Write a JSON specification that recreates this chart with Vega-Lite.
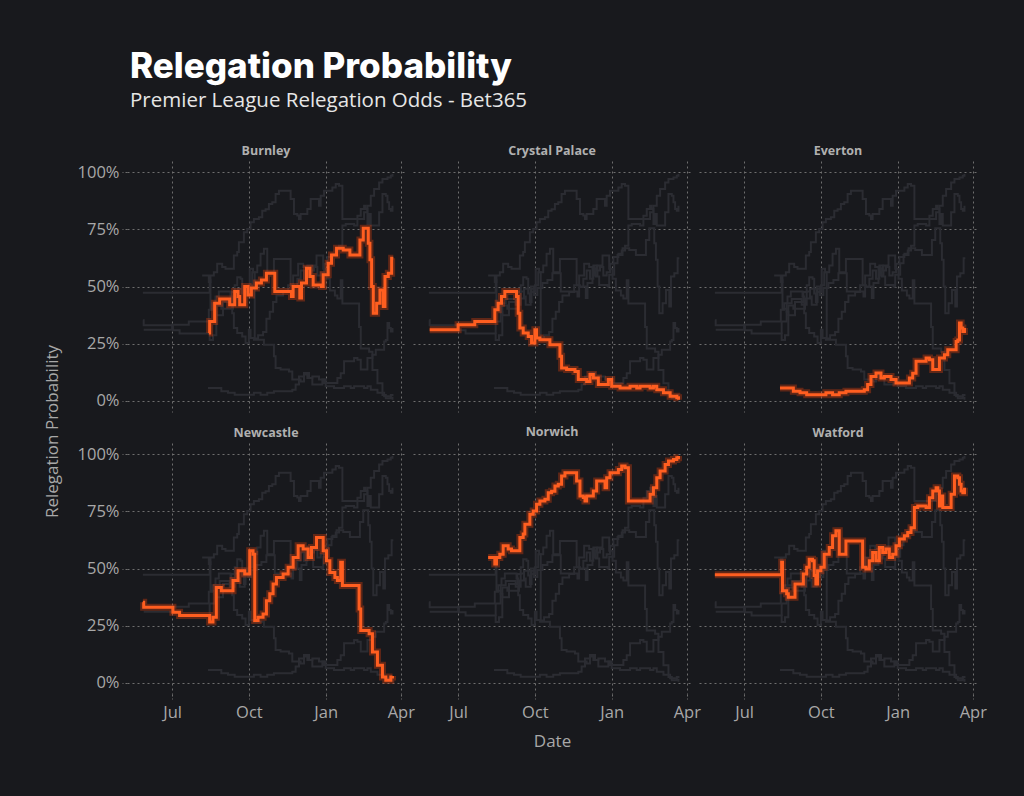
{
  "$schema": "https://vega.github.io/schema/vega-lite/v6.json",
  "background": "#18191d",
  "padding": {"left": 43, "top": 50, "right": 38, "bottom": 48},
  "title": {
    "text": "Relegation Probability",
    "subtitle": "Premier League Relegation Odds - Bet365",
    "anchor": "start",
    "frame": "group",
    "dx": 3,
    "font": "Inter",
    "fontSize": 35,
    "fontWeight": 800,
    "color": "#ffffff",
    "subtitleFont": "Open Sans",
    "subtitleFontSize": 20.5,
    "subtitleColor": "#e6e6e6",
    "subtitlePadding": 6,
    "offset": 33
  },
  "datasets": {
    "odds": [
      {"team": "Burnley", "date": "2021-08-14", "p": 29.6},
      {"team": "Burnley", "date": "2021-08-15", "p": 34.7},
      {"team": "Burnley", "date": "2021-08-21", "p": 42.7},
      {"team": "Burnley", "date": "2021-08-27", "p": 44.5},
      {"team": "Burnley", "date": "2021-09-08", "p": 42.0},
      {"team": "Burnley", "date": "2021-09-14", "p": 47.8},
      {"team": "Burnley", "date": "2021-09-18", "p": 45.6},
      {"team": "Burnley", "date": "2021-09-20", "p": 42.0},
      {"team": "Burnley", "date": "2021-09-26", "p": 50.0},
      {"team": "Burnley", "date": "2021-09-30", "p": 46.3},
      {"team": "Burnley", "date": "2021-10-04", "p": 49.3},
      {"team": "Burnley", "date": "2021-10-10", "p": 51.5},
      {"team": "Burnley", "date": "2021-10-16", "p": 52.9},
      {"team": "Burnley", "date": "2021-10-22", "p": 55.8},
      {"team": "Burnley", "date": "2021-11-01", "p": 47.8},
      {"team": "Burnley", "date": "2021-11-21", "p": 45.6},
      {"team": "Burnley", "date": "2021-11-23", "p": 50.0},
      {"team": "Burnley", "date": "2021-12-01", "p": 45.0},
      {"team": "Burnley", "date": "2021-12-03", "p": 51.5},
      {"team": "Burnley", "date": "2021-12-09", "p": 58.0},
      {"team": "Burnley", "date": "2021-12-13", "p": 54.4},
      {"team": "Burnley", "date": "2021-12-17", "p": 50.7},
      {"team": "Burnley", "date": "2021-12-27", "p": 50.0},
      {"team": "Burnley", "date": "2021-12-29", "p": 55.1},
      {"team": "Burnley", "date": "2022-01-04", "p": 60.2},
      {"team": "Burnley", "date": "2022-01-08", "p": 63.8},
      {"team": "Burnley", "date": "2022-01-14", "p": 66.8},
      {"team": "Burnley", "date": "2022-01-22", "p": 66.0},
      {"team": "Burnley", "date": "2022-01-30", "p": 63.8},
      {"team": "Burnley", "date": "2022-02-11", "p": 70.4},
      {"team": "Burnley", "date": "2022-02-15", "p": 75.5},
      {"team": "Burnley", "date": "2022-02-21", "p": 69.0},
      {"team": "Burnley", "date": "2022-02-23", "p": 61.7},
      {"team": "Burnley", "date": "2022-02-25", "p": 50.0},
      {"team": "Burnley", "date": "2022-02-27", "p": 38.3},
      {"team": "Burnley", "date": "2022-03-03", "p": 42.7},
      {"team": "Burnley", "date": "2022-03-07", "p": 48.5},
      {"team": "Burnley", "date": "2022-03-11", "p": 41.2},
      {"team": "Burnley", "date": "2022-03-13", "p": 54.4},
      {"team": "Burnley", "date": "2022-03-17", "p": 55.8},
      {"team": "Burnley", "date": "2022-03-21", "p": 62.4},
      {"team": "Burnley", "date": "2022-03-23", "p": 62.4},

      {"team": "Crystal Palace", "date": "2021-05-28", "p": 31.0},
      {"team": "Crystal Palace", "date": "2021-07-01", "p": 33.2},
      {"team": "Crystal Palace", "date": "2021-07-21", "p": 34.7},
      {"team": "Crystal Palace", "date": "2021-08-14", "p": 39.8},
      {"team": "Crystal Palace", "date": "2021-08-18", "p": 42.7},
      {"team": "Crystal Palace", "date": "2021-08-22", "p": 45.6},
      {"team": "Crystal Palace", "date": "2021-08-26", "p": 47.8},
      {"team": "Crystal Palace", "date": "2021-09-09", "p": 45.6},
      {"team": "Crystal Palace", "date": "2021-09-11", "p": 38.3},
      {"team": "Crystal Palace", "date": "2021-09-13", "p": 31.8},
      {"team": "Crystal Palace", "date": "2021-09-17", "p": 29.6},
      {"team": "Crystal Palace", "date": "2021-09-23", "p": 28.1},
      {"team": "Crystal Palace", "date": "2021-09-27", "p": 25.2},
      {"team": "Crystal Palace", "date": "2021-10-01", "p": 31.0},
      {"team": "Crystal Palace", "date": "2021-10-03", "p": 27.4},
      {"team": "Crystal Palace", "date": "2021-10-07", "p": 26.7},
      {"team": "Crystal Palace", "date": "2021-10-19", "p": 24.5},
      {"team": "Crystal Palace", "date": "2021-10-31", "p": 19.4},
      {"team": "Crystal Palace", "date": "2021-11-02", "p": 14.3},
      {"team": "Crystal Palace", "date": "2021-11-08", "p": 13.6},
      {"team": "Crystal Palace", "date": "2021-11-18", "p": 12.8},
      {"team": "Crystal Palace", "date": "2021-11-22", "p": 9.2},
      {"team": "Crystal Palace", "date": "2021-12-02", "p": 8.4},
      {"team": "Crystal Palace", "date": "2021-12-06", "p": 11.4},
      {"team": "Crystal Palace", "date": "2021-12-10", "p": 9.9},
      {"team": "Crystal Palace", "date": "2021-12-16", "p": 7.0},
      {"team": "Crystal Palace", "date": "2021-12-28", "p": 9.2},
      {"team": "Crystal Palace", "date": "2022-01-01", "p": 6.3},
      {"team": "Crystal Palace", "date": "2022-01-11", "p": 5.5},
      {"team": "Crystal Palace", "date": "2022-01-23", "p": 6.3},
      {"team": "Crystal Palace", "date": "2022-01-31", "p": 5.5},
      {"team": "Crystal Palace", "date": "2022-02-04", "p": 6.3},
      {"team": "Crystal Palace", "date": "2022-02-16", "p": 5.5},
      {"team": "Crystal Palace", "date": "2022-02-20", "p": 6.3},
      {"team": "Crystal Palace", "date": "2022-02-24", "p": 4.8},
      {"team": "Crystal Palace", "date": "2022-03-04", "p": 3.4},
      {"team": "Crystal Palace", "date": "2022-03-12", "p": 1.9},
      {"team": "Crystal Palace", "date": "2022-03-20", "p": 1.2},
      {"team": "Crystal Palace", "date": "2022-03-22", "p": 0.4},

      {"team": "Everton", "date": "2021-08-13", "p": 5.5},
      {"team": "Everton", "date": "2021-08-29", "p": 4.1},
      {"team": "Everton", "date": "2021-09-06", "p": 3.4},
      {"team": "Everton", "date": "2021-09-14", "p": 2.6},
      {"team": "Everton", "date": "2021-10-07", "p": 3.4},
      {"team": "Everton", "date": "2021-10-15", "p": 2.6},
      {"team": "Everton", "date": "2021-10-23", "p": 3.4},
      {"team": "Everton", "date": "2021-10-31", "p": 4.1},
      {"team": "Everton", "date": "2021-11-22", "p": 4.8},
      {"team": "Everton", "date": "2021-11-26", "p": 7.0},
      {"team": "Everton", "date": "2021-11-30", "p": 10.6},
      {"team": "Everton", "date": "2021-12-06", "p": 12.1},
      {"team": "Everton", "date": "2021-12-12", "p": 9.9},
      {"team": "Everton", "date": "2021-12-16", "p": 10.6},
      {"team": "Everton", "date": "2021-12-24", "p": 9.2},
      {"team": "Everton", "date": "2021-12-30", "p": 7.7},
      {"team": "Everton", "date": "2022-01-15", "p": 9.9},
      {"team": "Everton", "date": "2022-01-19", "p": 12.0},
      {"team": "Everton", "date": "2022-01-23", "p": 17.2},
      {"team": "Everton", "date": "2022-02-04", "p": 18.7},
      {"team": "Everton", "date": "2022-02-08", "p": 17.9},
      {"team": "Everton", "date": "2022-02-12", "p": 13.6},
      {"team": "Everton", "date": "2022-02-20", "p": 18.7},
      {"team": "Everton", "date": "2022-02-26", "p": 20.1},
      {"team": "Everton", "date": "2022-03-02", "p": 22.3},
      {"team": "Everton", "date": "2022-03-12", "p": 25.9},
      {"team": "Everton", "date": "2022-03-14", "p": 26.6},
      {"team": "Everton", "date": "2022-03-16", "p": 34.0},
      {"team": "Everton", "date": "2022-03-18", "p": 31.8},
      {"team": "Everton", "date": "2022-03-20", "p": 30.3},
      {"team": "Everton", "date": "2022-03-22", "p": 31.8},

      {"team": "Newcastle", "date": "2021-05-27", "p": 35.2},
      {"team": "Newcastle", "date": "2021-05-28", "p": 33.0},
      {"team": "Newcastle", "date": "2021-07-02", "p": 30.8},
      {"team": "Newcastle", "date": "2021-07-10", "p": 29.4},
      {"team": "Newcastle", "date": "2021-08-15", "p": 26.5},
      {"team": "Newcastle", "date": "2021-08-19", "p": 28.6},
      {"team": "Newcastle", "date": "2021-08-23", "p": 41.7},
      {"team": "Newcastle", "date": "2021-08-29", "p": 40.3},
      {"team": "Newcastle", "date": "2021-09-12", "p": 44.7},
      {"team": "Newcastle", "date": "2021-09-18", "p": 49.0},
      {"team": "Newcastle", "date": "2021-09-26", "p": 47.6},
      {"team": "Newcastle", "date": "2021-10-02", "p": 57.8},
      {"team": "Newcastle", "date": "2021-10-06", "p": 56.3},
      {"team": "Newcastle", "date": "2021-10-08", "p": 27.2},
      {"team": "Newcastle", "date": "2021-10-12", "p": 28.6},
      {"team": "Newcastle", "date": "2021-10-18", "p": 30.1},
      {"team": "Newcastle", "date": "2021-10-22", "p": 35.9},
      {"team": "Newcastle", "date": "2021-10-26", "p": 38.9},
      {"team": "Newcastle", "date": "2021-10-30", "p": 43.2},
      {"team": "Newcastle", "date": "2021-11-03", "p": 46.1},
      {"team": "Newcastle", "date": "2021-11-11", "p": 47.6},
      {"team": "Newcastle", "date": "2021-11-17", "p": 50.5},
      {"team": "Newcastle", "date": "2021-11-23", "p": 54.8},
      {"team": "Newcastle", "date": "2021-11-29", "p": 60.0},
      {"team": "Newcastle", "date": "2021-12-05", "p": 58.5},
      {"team": "Newcastle", "date": "2021-12-11", "p": 54.8},
      {"team": "Newcastle", "date": "2021-12-15", "p": 59.2},
      {"team": "Newcastle", "date": "2021-12-21", "p": 63.6},
      {"team": "Newcastle", "date": "2021-12-29", "p": 57.8},
      {"team": "Newcastle", "date": "2022-01-02", "p": 53.4},
      {"team": "Newcastle", "date": "2022-01-06", "p": 48.3},
      {"team": "Newcastle", "date": "2022-01-12", "p": 46.1},
      {"team": "Newcastle", "date": "2022-01-15", "p": 44.7},
      {"team": "Newcastle", "date": "2022-01-19", "p": 52.7},
      {"team": "Newcastle", "date": "2022-01-21", "p": 42.5},
      {"team": "Newcastle", "date": "2022-02-10", "p": 32.3},
      {"team": "Newcastle", "date": "2022-02-12", "p": 22.8},
      {"team": "Newcastle", "date": "2022-02-22", "p": 21.4},
      {"team": "Newcastle", "date": "2022-02-26", "p": 13.4},
      {"team": "Newcastle", "date": "2022-03-04", "p": 7.6},
      {"team": "Newcastle", "date": "2022-03-10", "p": 2.4},
      {"team": "Newcastle", "date": "2022-03-14", "p": 1.0},
      {"team": "Newcastle", "date": "2022-03-20", "p": 2.4},
      {"team": "Newcastle", "date": "2022-03-22", "p": 2.9},

      {"team": "Norwich", "date": "2021-08-06", "p": 54.8},
      {"team": "Norwich", "date": "2021-08-14", "p": 52.0},
      {"team": "Norwich", "date": "2021-08-16", "p": 54.8},
      {"team": "Norwich", "date": "2021-08-20", "p": 56.3},
      {"team": "Norwich", "date": "2021-08-24", "p": 60.0},
      {"team": "Norwich", "date": "2021-08-30", "p": 58.5},
      {"team": "Norwich", "date": "2021-09-03", "p": 57.8},
      {"team": "Norwich", "date": "2021-09-13", "p": 63.6},
      {"team": "Norwich", "date": "2021-09-17", "p": 65.1},
      {"team": "Norwich", "date": "2021-09-19", "p": 69.4},
      {"team": "Norwich", "date": "2021-09-25", "p": 73.8},
      {"team": "Norwich", "date": "2021-09-29", "p": 75.2},
      {"team": "Norwich", "date": "2021-10-03", "p": 78.2},
      {"team": "Norwich", "date": "2021-10-07", "p": 79.6},
      {"team": "Norwich", "date": "2021-10-13", "p": 80.3},
      {"team": "Norwich", "date": "2021-10-17", "p": 83.2},
      {"team": "Norwich", "date": "2021-10-21", "p": 83.9},
      {"team": "Norwich", "date": "2021-10-25", "p": 86.2},
      {"team": "Norwich", "date": "2021-10-29", "p": 86.9},
      {"team": "Norwich", "date": "2021-11-02", "p": 90.5},
      {"team": "Norwich", "date": "2021-11-06", "p": 92.0},
      {"team": "Norwich", "date": "2021-11-20", "p": 88.3},
      {"team": "Norwich", "date": "2021-11-24", "p": 81.8},
      {"team": "Norwich", "date": "2021-11-28", "p": 81.1},
      {"team": "Norwich", "date": "2021-11-30", "p": 79.6},
      {"team": "Norwich", "date": "2021-12-02", "p": 81.8},
      {"team": "Norwich", "date": "2021-12-10", "p": 84.0},
      {"team": "Norwich", "date": "2021-12-14", "p": 88.3},
      {"team": "Norwich", "date": "2021-12-24", "p": 85.4},
      {"team": "Norwich", "date": "2021-12-26", "p": 89.8},
      {"team": "Norwich", "date": "2021-12-30", "p": 92.0},
      {"team": "Norwich", "date": "2022-01-09", "p": 93.4},
      {"team": "Norwich", "date": "2022-01-13", "p": 94.9},
      {"team": "Norwich", "date": "2022-01-17", "p": 94.2},
      {"team": "Norwich", "date": "2022-01-21", "p": 79.6},
      {"team": "Norwich", "date": "2022-02-16", "p": 82.5},
      {"team": "Norwich", "date": "2022-02-20", "p": 85.4},
      {"team": "Norwich", "date": "2022-02-24", "p": 89.8},
      {"team": "Norwich", "date": "2022-02-28", "p": 92.7},
      {"team": "Norwich", "date": "2022-03-06", "p": 95.6},
      {"team": "Norwich", "date": "2022-03-10", "p": 97.1},
      {"team": "Norwich", "date": "2022-03-16", "p": 97.8},
      {"team": "Norwich", "date": "2022-03-20", "p": 98.5},
      {"team": "Norwich", "date": "2022-03-22", "p": 99.3},

      {"team": "Watford", "date": "2021-05-27", "p": 47.3},
      {"team": "Watford", "date": "2021-08-13", "p": 47.3},
      {"team": "Watford", "date": "2021-08-15", "p": 52.7},
      {"team": "Watford", "date": "2021-08-16", "p": 40.3},
      {"team": "Watford", "date": "2021-08-21", "p": 38.9},
      {"team": "Watford", "date": "2021-08-23", "p": 37.4},
      {"team": "Watford", "date": "2021-08-31", "p": 43.2},
      {"team": "Watford", "date": "2021-09-10", "p": 47.6},
      {"team": "Watford", "date": "2021-09-14", "p": 50.5},
      {"team": "Watford", "date": "2021-09-17", "p": 54.1},
      {"team": "Watford", "date": "2021-09-21", "p": 53.4},
      {"team": "Watford", "date": "2021-09-23", "p": 46.9},
      {"team": "Watford", "date": "2021-09-25", "p": 43.2},
      {"team": "Watford", "date": "2021-09-27", "p": 49.0},
      {"team": "Watford", "date": "2021-10-01", "p": 50.5},
      {"team": "Watford", "date": "2021-10-05", "p": 56.3},
      {"team": "Watford", "date": "2021-10-11", "p": 59.2},
      {"team": "Watford", "date": "2021-10-15", "p": 64.3},
      {"team": "Watford", "date": "2021-10-19", "p": 66.5},
      {"team": "Watford", "date": "2021-10-23", "p": 56.3},
      {"team": "Watford", "date": "2021-10-31", "p": 62.1},
      {"team": "Watford", "date": "2021-11-20", "p": 50.5},
      {"team": "Watford", "date": "2021-11-24", "p": 49.8},
      {"team": "Watford", "date": "2021-11-28", "p": 53.4},
      {"team": "Watford", "date": "2021-12-02", "p": 57.0},
      {"team": "Watford", "date": "2021-12-06", "p": 53.4},
      {"team": "Watford", "date": "2021-12-10", "p": 59.2},
      {"team": "Watford", "date": "2021-12-14", "p": 57.0},
      {"team": "Watford", "date": "2021-12-18", "p": 58.5},
      {"team": "Watford", "date": "2021-12-22", "p": 54.8},
      {"team": "Watford", "date": "2021-12-26", "p": 56.3},
      {"team": "Watford", "date": "2021-12-30", "p": 60.0},
      {"team": "Watford", "date": "2022-01-03", "p": 62.9},
      {"team": "Watford", "date": "2022-01-09", "p": 64.3},
      {"team": "Watford", "date": "2022-01-13", "p": 65.8},
      {"team": "Watford", "date": "2022-01-17", "p": 67.9},
      {"team": "Watford", "date": "2022-01-21", "p": 76.7},
      {"team": "Watford", "date": "2022-01-25", "p": 77.4},
      {"team": "Watford", "date": "2022-02-04", "p": 76.7},
      {"team": "Watford", "date": "2022-02-08", "p": 81.0},
      {"team": "Watford", "date": "2022-02-12", "p": 84.0},
      {"team": "Watford", "date": "2022-02-16", "p": 85.4},
      {"team": "Watford", "date": "2022-02-18", "p": 84.0},
      {"team": "Watford", "date": "2022-02-20", "p": 77.4},
      {"team": "Watford", "date": "2022-02-22", "p": 81.8},
      {"team": "Watford", "date": "2022-02-24", "p": 76.7},
      {"team": "Watford", "date": "2022-03-06", "p": 82.5},
      {"team": "Watford", "date": "2022-03-10", "p": 90.5},
      {"team": "Watford", "date": "2022-03-14", "p": 89.8},
      {"team": "Watford", "date": "2022-03-16", "p": 86.9},
      {"team": "Watford", "date": "2022-03-18", "p": 84.0},
      {"team": "Watford", "date": "2022-03-20", "p": 83.2},
      {"team": "Watford", "date": "2022-03-22", "p": 85.4}
    ]
  },
  "columns": 3,
  "bounds": "flush",
  "spacing": {"row": 31, "column": 8},
  "concat": [
    {
      "title": {"text": "Burnley"},
      "width": 278, "height": 251,
      "data": {"name": "odds"},
      "encoding": {
        "x": {"field": "date", "type": "temporal", "scale": {"domain": [{"year": 2021, "month": 5, "date": 8}, {"year": 2022, "month": 4, "date": 6}]},
              "axis": {"values": [{"year": 2021, "month": 7, "date": 1}, {"year": 2021, "month": 10, "date": 1}, {"year": 2022, "month": 1, "date": 1}, {"year": 2022, "month": 4, "date": 1}], "labels": false, "ticks": false, "title": null}},
        "y": {"field": "p", "type": "quantitative", "scale": {"domain": [-5, 105], "nice": false, "zero": false},
              "axis": {"values": [0, 25, 50, 75, 100], "labelExpr": "datum.value + '%'", "title": "Relegation Probability", "titleX": -75, "titleY": 270, "titleBaseline": "middle", "titleAlign": "center", "titleAngle": -90}}
      },
      "layer": [
        {"mark": {"type": "line", "interpolate": "step-after", "color": "#2b2c32", "strokeWidth": 2}, "encoding": {"detail": {"field": "team", "type": "nominal"}}},
        {"transform": [{"filter": "datum.team === 'Burnley'"}], "mark": {"type": "line", "interpolate": "step-after", "color": "#e8420e", "strokeWidth": 7, "opacity": 0.35}},
        {"transform": [{"filter": "datum.team === 'Burnley'"}], "mark": {"type": "line", "interpolate": "step-after", "color": "#ff5e20", "strokeWidth": 3}}
      ]
    },
    {
      "title": {"text": "Crystal Palace"},
      "width": 278, "height": 251,
      "data": {"name": "odds"},
      "encoding": {
        "x": {"field": "date", "type": "temporal", "scale": {"domain": [{"year": 2021, "month": 5, "date": 8}, {"year": 2022, "month": 4, "date": 6}]},
              "axis": {"values": [{"year": 2021, "month": 7, "date": 1}, {"year": 2021, "month": 10, "date": 1}, {"year": 2022, "month": 1, "date": 1}, {"year": 2022, "month": 4, "date": 1}], "labels": false, "ticks": false, "title": null}},
        "y": {"field": "p", "type": "quantitative", "scale": {"domain": [-5, 105], "nice": false, "zero": false},
              "axis": {"values": [0, 25, 50, 75, 100], "labels": false, "ticks": false, "title": null}}
      },
      "layer": [
        {"mark": {"type": "line", "interpolate": "step-after", "color": "#2b2c32", "strokeWidth": 2}, "encoding": {"detail": {"field": "team", "type": "nominal"}}},
        {"transform": [{"filter": "datum.team === 'Crystal Palace'"}], "mark": {"type": "line", "interpolate": "step-after", "color": "#e8420e", "strokeWidth": 7, "opacity": 0.35}},
        {"transform": [{"filter": "datum.team === 'Crystal Palace'"}], "mark": {"type": "line", "interpolate": "step-after", "color": "#ff5e20", "strokeWidth": 3}}
      ]
    },
    {
      "title": {"text": "Everton"},
      "width": 278, "height": 251,
      "data": {"name": "odds"},
      "encoding": {
        "x": {"field": "date", "type": "temporal", "scale": {"domain": [{"year": 2021, "month": 5, "date": 8}, {"year": 2022, "month": 4, "date": 6}]},
              "axis": {"values": [{"year": 2021, "month": 7, "date": 1}, {"year": 2021, "month": 10, "date": 1}, {"year": 2022, "month": 1, "date": 1}, {"year": 2022, "month": 4, "date": 1}], "labels": false, "ticks": false, "title": null}},
        "y": {"field": "p", "type": "quantitative", "scale": {"domain": [-5, 105], "nice": false, "zero": false},
              "axis": {"values": [0, 25, 50, 75, 100], "labels": false, "ticks": false, "title": null}}
      },
      "layer": [
        {"mark": {"type": "line", "interpolate": "step-after", "color": "#2b2c32", "strokeWidth": 2}, "encoding": {"detail": {"field": "team", "type": "nominal"}}},
        {"transform": [{"filter": "datum.team === 'Everton'"}], "mark": {"type": "line", "interpolate": "step-after", "color": "#e8420e", "strokeWidth": 7, "opacity": 0.35}},
        {"transform": [{"filter": "datum.team === 'Everton'"}], "mark": {"type": "line", "interpolate": "step-after", "color": "#ff5e20", "strokeWidth": 3}}
      ]
    },
    {
      "title": {"text": "Newcastle"},
      "width": 278, "height": 251,
      "data": {"name": "odds"},
      "encoding": {
        "x": {"field": "date", "type": "temporal", "scale": {"domain": [{"year": 2021, "month": 5, "date": 8}, {"year": 2022, "month": 4, "date": 6}]},
              "axis": {"values": [{"year": 2021, "month": 7, "date": 1}, {"year": 2021, "month": 10, "date": 1}, {"year": 2022, "month": 1, "date": 1}, {"year": 2022, "month": 4, "date": 1}], "format": "%b", "title": null}},
        "y": {"field": "p", "type": "quantitative", "scale": {"domain": [-5, 105], "nice": false, "zero": false},
              "axis": {"values": [0, 25, 50, 75, 100], "labelExpr": "datum.value + '%'", "title": null}}
      },
      "layer": [
        {"mark": {"type": "line", "interpolate": "step-after", "color": "#2b2c32", "strokeWidth": 2}, "encoding": {"detail": {"field": "team", "type": "nominal"}}},
        {"transform": [{"filter": "datum.team === 'Newcastle'"}], "mark": {"type": "line", "interpolate": "step-after", "color": "#e8420e", "strokeWidth": 7, "opacity": 0.35}},
        {"transform": [{"filter": "datum.team === 'Newcastle'"}], "mark": {"type": "line", "interpolate": "step-after", "color": "#ff5e20", "strokeWidth": 3}}
      ]
    },
    {
      "title": {"text": "Norwich"},
      "width": 278, "height": 251,
      "data": {"name": "odds"},
      "encoding": {
        "x": {"field": "date", "type": "temporal", "scale": {"domain": [{"year": 2021, "month": 5, "date": 8}, {"year": 2022, "month": 4, "date": 6}]},
              "axis": {"values": [{"year": 2021, "month": 7, "date": 1}, {"year": 2021, "month": 10, "date": 1}, {"year": 2022, "month": 1, "date": 1}, {"year": 2022, "month": 4, "date": 1}], "format": "%b", "title": "Date"}},
        "y": {"field": "p", "type": "quantitative", "scale": {"domain": [-5, 105], "nice": false, "zero": false},
              "axis": {"values": [0, 25, 50, 75, 100], "labels": false, "ticks": false, "title": null}}
      },
      "layer": [
        {"mark": {"type": "line", "interpolate": "step-after", "color": "#2b2c32", "strokeWidth": 2}, "encoding": {"detail": {"field": "team", "type": "nominal"}}},
        {"transform": [{"filter": "datum.team === 'Norwich'"}], "mark": {"type": "line", "interpolate": "step-after", "color": "#e8420e", "strokeWidth": 7, "opacity": 0.35}},
        {"transform": [{"filter": "datum.team === 'Norwich'"}], "mark": {"type": "line", "interpolate": "step-after", "color": "#ff5e20", "strokeWidth": 3}}
      ]
    },
    {
      "title": {"text": "Watford"},
      "width": 278, "height": 251,
      "data": {"name": "odds"},
      "encoding": {
        "x": {"field": "date", "type": "temporal", "scale": {"domain": [{"year": 2021, "month": 5, "date": 8}, {"year": 2022, "month": 4, "date": 6}]},
              "axis": {"values": [{"year": 2021, "month": 7, "date": 1}, {"year": 2021, "month": 10, "date": 1}, {"year": 2022, "month": 1, "date": 1}, {"year": 2022, "month": 4, "date": 1}], "format": "%b", "title": null}},
        "y": {"field": "p", "type": "quantitative", "scale": {"domain": [-5, 105], "nice": false, "zero": false},
              "axis": {"values": [0, 25, 50, 75, 100], "labels": false, "ticks": false, "title": null}}
      },
      "layer": [
        {"mark": {"type": "line", "interpolate": "step-after", "color": "#2b2c32", "strokeWidth": 2}, "encoding": {"detail": {"field": "team", "type": "nominal"}}},
        {"transform": [{"filter": "datum.team === 'Watford'"}], "mark": {"type": "line", "interpolate": "step-after", "color": "#e8420e", "strokeWidth": 7, "opacity": 0.35}},
        {"transform": [{"filter": "datum.team === 'Watford'"}], "mark": {"type": "line", "interpolate": "step-after", "color": "#ff5e20", "strokeWidth": 3}}
      ]
    }
  ],
  "config": {
    "view": {"stroke": null},
    "font": "Open Sans",
    "axis": {
      "domain": false,
      "grid": true,
      "gridColor": "#6e6e6e",
      "gridDash": [2, 3],
      "gridWidth": 1,
      "tickColor": "#6e6e6e",
      "tickDash": [2, 2],
      "tickSize": 5,
      "labelColor": "#a8a8a8",
      "labelFont": "Open Sans",
      "labelFontSize": 16.5,
      "labelPadding": 3,
      "titleColor": "#a8a8a8",
      "titleFont": "Open Sans",
      "titleFontSize": 17,
      "titleFontWeight": "normal"
    },
    "axisX": {"labelPadding": 5, "titlePadding": 13},
    "title": {
      "font": "Open Sans",
      "fontSize": 12.5,
      "fontWeight": "bold",
      "color": "#b0b0b0",
      "anchor": "middle",
      "offset": 4
    }
  }
}
